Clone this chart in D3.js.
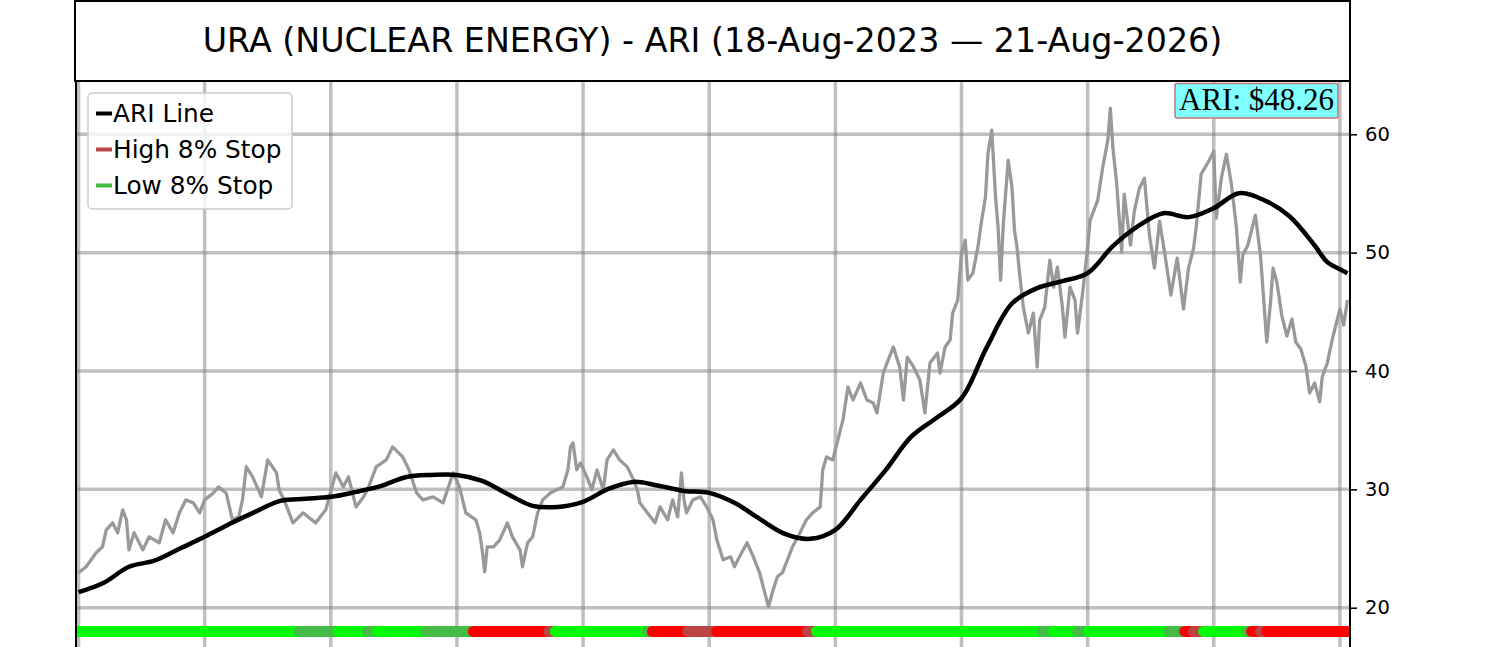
<!DOCTYPE html>
<html>
<head>
<meta charset="utf-8">
<script src="https://cdn.jsdelivr.net/npm/d3@7"></script>
<style>
  body { margin: 0; background: #fff; }
  svg { display: block; }
</style>
</head>
<body>
<svg id="chart"></svg>
<script>
// chart text
var titleText = "URA (NUCLEAR ENERGY) - ARI (18-Aug-2023 \u2014 21-Aug-2026)";
var ariLabel = "ARI: $48.26";
var legendLabels = ["ARI Line", "High 8% Stop", "Low 8% Stop"];
var legendColors = ["#000000", "#bb4444", "#44bb44"];

// ticks
var yTicks = [20, 30, 40, 50, 60];
var dayTicks = [0, 100, 200, 300, 400, 500, 600, 700, 800, 900, 1000];

// price (trading day index, close)
var priceDay = [0, 6, 14, 19, 22, 27, 31, 35, 38, 40, 44, 51, 56, 64, 69, 75, 80, 85, 91, 96,
  100, 107, 111, 117, 122, 127, 130, 133, 138, 145, 150, 157, 159, 163, 170, 178, 188, 196, 204, 210,
  214, 220, 226, 230, 236, 244, 249, 257, 262, 268, 273, 281, 289, 297, 302, 307, 315, 318, 320, 322,
  324, 329, 334, 340, 344, 350, 352, 356, 360, 364, 368, 374, 379, 384, 388, 390, 392, 395, 398, 403,
  407, 411, 416, 419, 424, 429, 435, 440, 443, 445, 451, 457, 461, 467, 471, 475, 478, 480, 482, 487,
  493, 498, 503, 506, 511, 517, 520, 524, 530, 535, 540, 544, 547, 550, 554, 558, 562, 566, 572, 577,
  582, 588, 590, 593, 598, 604, 606, 610, 614, 620, 625, 630, 633, 638, 641, 646, 651, 654, 657, 662,
  667, 671, 675, 681, 683, 687, 691, 693, 697, 700, 703, 705, 709, 713, 716, 719, 721, 724, 727, 729,
  731, 733, 737, 740, 742, 744, 746, 749, 753, 757, 760, 762, 766, 770, 773, 776, 780, 782, 786, 790,
  792, 796, 800, 802, 808, 812, 816, 818, 820, 823, 827, 829, 834, 837, 841, 845, 849, 853, 857, 861,
  866, 871, 876, 880, 884, 886, 890, 896, 900, 902, 906, 910, 914, 918, 921, 923, 927, 933, 937, 939,
  942, 945, 947, 950, 954, 958, 962, 965, 969, 973, 976, 980, 984, 986, 990, 994, 1000, 1003, 1006];
var priceValue = [22.95, 23.46, 24.64, 25.15, 26.58, 27.17, 26.33, 28.27, 27.43, 24.89, 26.33, 24.89, 25.99, 25.49, 27.43, 26.33, 28.02, 29.11, 28.86, 28.02,
  29.11, 29.70, 30.21, 29.70, 27.43, 27.68, 29.11, 31.90, 31.06, 29.37, 32.49, 31.39, 29.96, 29.11, 27.17, 28.02, 27.17, 28.27, 31.39, 30.21,
  31.06, 28.52, 29.37, 30.21, 31.90, 32.49, 33.59, 32.74, 31.65, 29.70, 29.11, 29.37, 28.86, 31.39, 30.21, 28.02, 27.43, 26.33, 24.89, 23.04,
  25.15, 25.15, 25.74, 27.17, 25.99, 24.89, 23.46, 25.49, 25.99, 28.02, 29.11, 29.70, 29.96, 30.21, 31.65, 33.59, 33.92, 31.65, 32.24, 31.06,
  29.96, 31.65, 29.96, 32.49, 33.33, 32.49, 31.90, 30.80, 29.96, 28.86, 28.02, 27.17, 28.52, 27.43, 29.11, 27.68, 31.39, 29.11, 28.02, 29.11,
  29.37, 28.52, 27.43, 25.74, 24.05, 24.30, 23.46, 24.30, 25.49, 24.30, 22.95, 21.27, 20.08, 21.27, 22.62, 22.95, 24.05, 25.15, 26.33, 27.43,
  28.02, 28.52, 31.65, 32.74, 32.49, 35.02, 35.87, 38.65, 37.55, 38.99, 37.55, 37.30, 36.46, 39.83, 40.68, 42.03, 40.34, 37.55, 41.18, 40.34,
  39.24, 36.46, 40.68, 41.52, 39.83, 42.03, 42.62, 44.89, 45.99, 49.96, 51.06, 47.68, 48.27, 50.46, 52.74, 54.68, 58.40, 60.34, 54.68, 52.15,
  47.68, 52.15, 57.81, 55.53, 51.90, 50.46, 48.27, 45.40, 43.21, 44.89, 40.34, 44.30, 45.40, 49.37, 47.09, 48.78, 45.40, 42.87, 47.09, 45.99,
  43.21, 46.58, 50.46, 52.74, 54.43, 57.22, 59.49, 62.20, 58.90, 55.87, 50.04, 54.94, 50.63, 53.50, 55.44, 56.29, 51.48, 48.69, 52.66, 50.04,
  46.41, 49.54, 45.23, 48.69, 50.38, 52.07, 56.63, 57.72, 58.57, 52.91, 56.29, 58.31, 55.78, 52.07, 47.51, 49.79, 50.63, 53.17, 49.79, 46.92,
  42.45, 45.82, 48.69, 47.51, 44.64, 42.95, 44.39, 42.45, 41.86, 40.42, 38.14, 38.99, 37.40, 39.50, 40.68, 42.70, 45.23, 43.88, 45.99];

// ARI line
var ariDay = [0, 20, 40, 60, 80, 100, 120, 140, 160, 180, 200, 220, 240, 260, 280, 300, 320, 340, 360, 380,
  400, 420, 440, 460, 480, 500, 520, 540, 560, 580, 600, 620, 640, 660, 680, 700, 720, 740, 760, 780,
  800, 820, 840, 860, 880, 900, 920, 940, 960, 980, 990, 1000, 1006];
var ariValue = [21.31, 22.11, 23.46, 23.97, 24.98, 25.99, 27.09, 28.10, 29.03, 29.20, 29.37, 29.79, 30.30, 31.05, 31.22, 31.22, 30.72, 29.62, 28.61, 28.52,
  28.95, 30.04, 30.63, 30.30, 29.87, 29.70, 28.86, 27.51, 26.24, 25.82, 26.58, 29.11, 31.65, 34.43, 36.03, 37.70, 42.00, 45.70, 47.00, 47.59,
  48.27, 50.55, 52.24, 53.33, 53.00, 53.76, 55.02, 54.43, 53.08, 50.60, 49.20, 48.60, 48.26];

// stop signal runs: first day of each run and its state
var signalStart = [0, 175, 206, 229, 237, 275, 313, 373, 378, 451, 455, 483, 506, 578, 585, 764, 773, 792, 801, 864, 877, 884, 892, 926, 930, 937, 942];
var signalState = ["L", "G", "L", "G", "L", "G", "R", "D", "L", "G", "R", "D", "R", "D", "L", "G", "L", "G", "L", "G", "R", "D", "L", "G", "R", "D", "R"];
var signalLastDay = 1006;
var signalLevel = 18;
var stateColors = { L: "#00ff00", G: "#44bb44", R: "#ff0000", D: "#bb4444" };

var width = 1500, height = 647;
var plotLeft = 76, plotRight = 1350, plotTop = 81, plotBottom = 661;

var svg = d3.select("#chart")
  .attr("width", width)
  .attr("height", height)
  .style("font-family", "'DejaVu Sans', sans-serif");

svg.append("rect").attr("width", width).attr("height", height).attr("fill", "#fff");

var x = d3.scaleLinear().domain([-2, 1008]).range([plotLeft, plotRight]);
var y = d3.scaleLinear().domain([15.5, 64.5]).range([plotBottom, plotTop]);

svg.append("clipPath").attr("id", "plotclip")
  .append("rect")
  .attr("x", plotLeft).attr("y", plotTop)
  .attr("width", plotRight - plotLeft).attr("height", plotBottom - plotTop);

var plot = svg.append("g").attr("clip-path", "url(#plotclip)");

// grid
plot.selectAll(".vgrid").data(dayTicks).enter().append("line")
  .attr("x1", d => x(d)).attr("x2", d => x(d))
  .attr("y1", plotTop).attr("y2", plotBottom)
  .attr("stroke", "#808080").attr("stroke-opacity", 0.5).attr("stroke-width", 3.5);

plot.selectAll(".hgrid").data(yTicks).enter().append("line")
  .attr("x1", plotLeft).attr("x2", plotRight)
  .attr("y1", d => y(d)).attr("y2", d => y(d))
  .attr("stroke", "#808080").attr("stroke-opacity", 0.5).attr("stroke-width", 3.5);

// price line
var priceData = priceDay.map((d, i) => ({ day: d, value: priceValue[i] }));
plot.append("path")
  .datum(priceData)
  .attr("fill", "none")
  .attr("stroke", "#999999")
  .attr("stroke-width", 3.3)
  .attr("stroke-linejoin", "round")
  .attr("d", d3.line().x(d => x(d.day)).y(d => y(d.value)));

// ARI line
var ariData = ariDay.map((d, i) => ({ day: d, value: ariValue[i] }));
plot.append("path")
  .datum(ariData)
  .attr("fill", "none")
  .attr("stroke", "#000")
  .attr("stroke-width", 4.5)
  .attr("d", d3.line().curve(d3.curveCatmullRom).x(d => x(d.day)).y(d => y(d.value)));

// signal strip
var runs = signalStart.map((s, i) => ({
  start: s,
  end: i < signalStart.length - 1 ? signalStart[i + 1] - 1 : signalLastDay,
  state: signalState[i]
}));
plot.selectAll(".run").data(runs).enter().append("line")
  .attr("x1", d => x(d.start)).attr("x2", d => x(d.end))
  .attr("y1", y(signalLevel)).attr("y2", y(signalLevel))
  .attr("stroke", d => stateColors[d.state])
  .attr("stroke-width", 11)
  .attr("stroke-linecap", "round");

// spines
svg.append("line").attr("x1", plotLeft).attr("x2", plotLeft).attr("y1", plotTop).attr("y2", height)
  .attr("stroke", "#000").attr("stroke-width", 2);
svg.append("line").attr("x1", plotRight).attr("x2", plotRight).attr("y1", plotTop).attr("y2", height)
  .attr("stroke", "#000").attr("stroke-width", 2);

// right y axis
var yAxis = svg.append("g")
  .attr("transform", "translate(" + plotRight + ",0)")
  .call(d3.axisRight(y).tickValues(yTicks).tickSize(7).tickPadding(8).tickFormat(d3.format("d")));
yAxis.select(".domain").remove();
yAxis.selectAll(".tick line").attr("stroke", "#000").attr("stroke-width", 1.6);
yAxis.selectAll(".tick text")
  .attr("fill", "#000")
  .style("font-family", "'DejaVu Sans', sans-serif")
  .style("font-size", "19.5px");

// legend
var legend = svg.append("g");
legend.append("rect")
  .attr("x", 88).attr("y", 93).attr("width", 204).attr("height", 116)
  .attr("rx", 4)
  .attr("fill", "#fff").attr("fill-opacity", 0.8)
  .attr("stroke", "#cccccc").attr("stroke-width", 1.5);
var rows = legend.selectAll(".row").data(legendLabels).enter().append("g")
  .attr("transform", (d, i) => "translate(0," + (122 + i * 36) + ")");
rows.append("line")
  .attr("x1", 96).attr("x2", 112).attr("y1", -8.5).attr("y2", -8.5)
  .attr("stroke", (d, i) => legendColors[i]).attr("stroke-width", 4);
rows.append("text")
  .attr("x", 113).attr("y", 0)
  .style("font-size", "24.8px")
  .attr("fill", "#000")
  .text(d => d);

// ARI value label
var labelG = svg.append("g");
var labelText = labelG.append("text")
  .attr("x", 1334).attr("y", 110)
  .attr("text-anchor", "end")
  .style("font-family", "'Liberation Serif', 'Times New Roman', serif")
  .style("font-size", "31px")
  .attr("fill", "#000")
  .text(ariLabel);
var bb = labelText.node().getBBox();
labelG.insert("rect", "text")
  .attr("x", bb.x - 4).attr("y", bb.y + 1.5)
  .attr("width", bb.width + 8).attr("height", bb.height - 0.5)
  .attr("rx", 2)
  .attr("fill", "#80ffff")
  .attr("stroke", "#c07878").attr("stroke-width", 1.5);

// title box
svg.append("rect")
  .attr("x", 75).attr("y", 1).attr("width", plotRight - 75).attr("height", plotTop - 1)
  .attr("fill", "#fff").attr("stroke", "#000").attr("stroke-width", 2);
svg.append("text")
  .attr("x", (75 + plotRight) / 2).attr("y", 52)
  .attr("text-anchor", "middle")
  .style("font-size", "33.3px")
  .attr("fill", "#000")
  .text(titleText);
</script>
</body>
</html>
